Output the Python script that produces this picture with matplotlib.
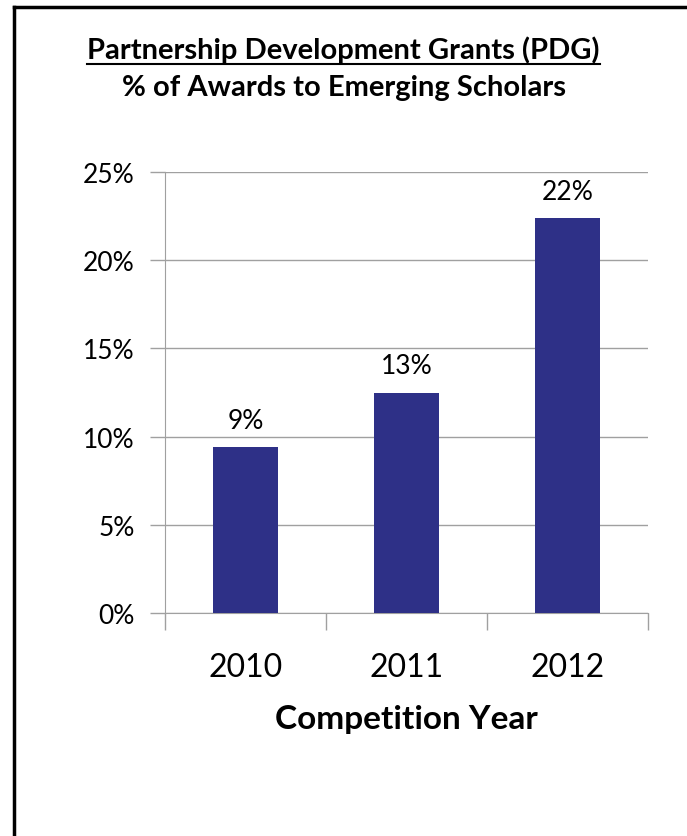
import matplotlib.pyplot as plt
from matplotlib.lines import Line2D
from matplotlib.ticker import FuncFormatter

years = ['2010', '2011', '2012']
share = [9.4, 12.5, 22.4]
labels = ['9%', '13%', '22%']

plt.rcParams['font.family'] = ['Lato', 'DejaVu Sans']

W, H = 687, 837
fig = plt.figure(figsize=(W / 100, H / 100), dpi=100)
ax = fig.add_axes([165 / W, 1 - 614 / H, (648 - 165) / W, (614 - 173) / H])

x = range(len(years))
ax.bar(x, share, width=0.4, color='#2E3087', zorder=3)
for i, v in enumerate(share):
    ax.text(i, v + 0.8, labels[i], ha='center', va='bottom', fontsize=19)

ax.set_xlim(-0.5, 2.5)
ax.set_ylim(0, 25)
ax.set_yticks([0, 5, 10, 15, 20, 25])
ax.yaxis.set_major_formatter(FuncFormatter(lambda v, p: '%d%%' % v))
ax.set_xticks(list(x))
ax.set_xticklabels(years)
ax.set_xticks([-0.5, 0.5, 1.5, 2.5], minor=True)
ax.tick_params(axis='x', which='major', length=0, labelsize=23, pad=28)
ax.tick_params(axis='x', which='minor', length=12, color='#A0A0A0', width=1)
ax.tick_params(axis='y', length=11, color='#A0A0A0', width=1, labelsize=19, pad=11)
ax.grid(axis='y', color='#A0A0A0', linewidth=1, zorder=0)
for s in ['top', 'right']:
    ax.spines[s].set_visible(False)
for s in ['left', 'bottom']:
    ax.spines[s].set_color('#A0A0A0')
ax.set_xlabel('Competition Year', fontsize=24, fontweight='bold', labelpad=16)

t1 = fig.text(0.5, 1 - 50 / H, 'Partnership Development Grants (PDG)',
              ha='center', va='center', fontsize=21, fontweight='bold')
fig.text(0.5, 1 - 88 / H, '% of Awards to Emerging Scholars',
         ha='center', va='center', fontsize=21, fontweight='bold')

fig.canvas.draw()
bb = t1.get_window_extent().transformed(fig.transFigure.inverted())
fig.add_artist(Line2D([bb.x0, bb.x1], [bb.y0 - 0.001, bb.y0 - 0.001],
                      color='black', linewidth=1.5))

# outer frame (top and left edges visible)
fig.add_artist(Line2D([14 / W, 14 / W], [0, 1 - 8 / H], color='black', linewidth=2.5))
fig.add_artist(Line2D([14 / W, 1], [1 - 8 / H, 1 - 8 / H], color='black', linewidth=2.5))

fig.savefig('out.png', dpi=100)
